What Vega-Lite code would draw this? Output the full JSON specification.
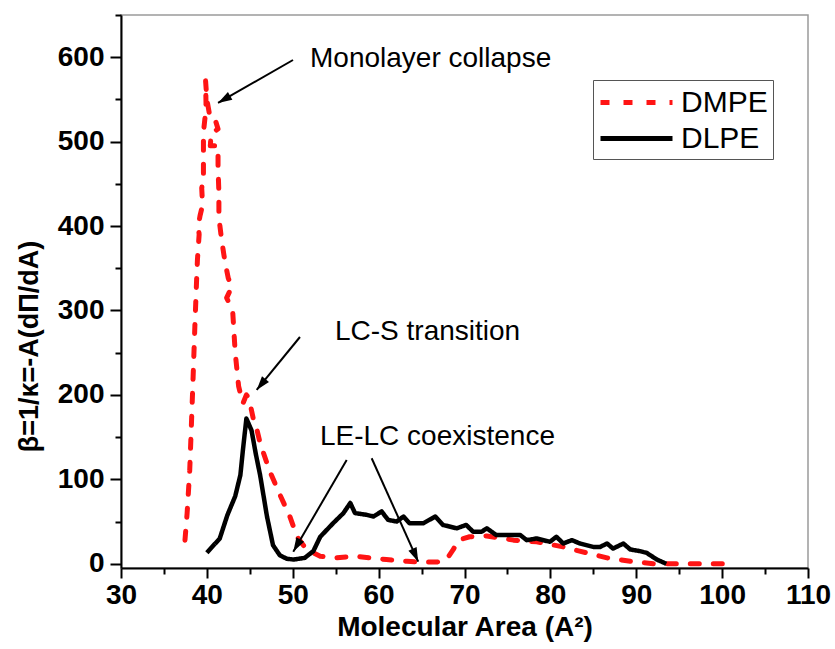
{
  "$schema": "https://vega.github.io/schema/vega-lite/v6.json",
  "width": 687,
  "height": 553,
  "autosize": {"type": "none"},
  "padding": {"left": 121, "top": 15, "right": 27, "bottom": 81},
  "background": "white",
  "config": {"view": {"stroke": "#9a9a9a", "strokeWidth": 1.5}, "font": "Liberation Sans"},
  "datasets": {
    "curves": [
      {"series": "DMPE", "i": 1, "area": 37.45, "beta": 28},
      {"series": "DMPE", "i": 2, "area": 37.7, "beta": 60},
      {"series": "DMPE", "i": 3, "area": 38.0, "beta": 110},
      {"series": "DMPE", "i": 4, "area": 38.2, "beta": 165},
      {"series": "DMPE", "i": 5, "area": 38.4, "beta": 222},
      {"series": "DMPE", "i": 6, "area": 38.6, "beta": 281},
      {"series": "DMPE", "i": 7, "area": 38.8, "beta": 335},
      {"series": "DMPE", "i": 8, "area": 38.9, "beta": 360},
      {"series": "DMPE", "i": 9, "area": 39.1, "beta": 390},
      {"series": "DMPE", "i": 10, "area": 39.0, "beta": 400},
      {"series": "DMPE", "i": 11, "area": 39.2, "beta": 412},
      {"series": "DMPE", "i": 12, "area": 39.5, "beta": 425},
      {"series": "DMPE", "i": 13, "area": 39.4, "beta": 445},
      {"series": "DMPE", "i": 14, "area": 39.6, "beta": 458},
      {"series": "DMPE", "i": 15, "area": 39.6, "beta": 485},
      {"series": "DMPE", "i": 16, "area": 39.6, "beta": 511},
      {"series": "DMPE", "i": 17, "area": 39.8, "beta": 530},
      {"series": "DMPE", "i": 18, "area": 39.9, "beta": 545},
      {"series": "DMPE", "i": 19, "area": 39.85, "beta": 572},
      {"series": "DMPE", "i": 20, "area": 40.0, "beta": 550},
      {"series": "DMPE", "i": 21, "area": 40.4, "beta": 527},
      {"series": "DMPE", "i": 22, "area": 41.0, "beta": 525},
      {"series": "DMPE", "i": 23, "area": 41.3, "beta": 515},
      {"series": "DMPE", "i": 24, "area": 40.5, "beta": 510},
      {"series": "DMPE", "i": 25, "area": 40.4, "beta": 495},
      {"series": "DMPE", "i": 26, "area": 41.3, "beta": 495},
      {"series": "DMPE", "i": 27, "area": 41.3, "beta": 468},
      {"series": "DMPE", "i": 28, "area": 41.4, "beta": 440},
      {"series": "DMPE", "i": 29, "area": 41.4, "beta": 410},
      {"series": "DMPE", "i": 30, "area": 41.7, "beta": 385},
      {"series": "DMPE", "i": 31, "area": 42.1, "beta": 358},
      {"series": "DMPE", "i": 32, "area": 42.5, "beta": 338},
      {"series": "DMPE", "i": 33, "area": 42.9, "beta": 328},
      {"series": "DMPE", "i": 34, "area": 42.3, "beta": 315},
      {"series": "DMPE", "i": 35, "area": 43.0, "beta": 300},
      {"series": "DMPE", "i": 36, "area": 43.3, "beta": 250},
      {"series": "DMPE", "i": 37, "area": 43.7, "beta": 210},
      {"series": "DMPE", "i": 38, "area": 44.2, "beta": 190},
      {"series": "DMPE", "i": 39, "area": 44.6, "beta": 200},
      {"series": "DMPE", "i": 40, "area": 44.9, "beta": 196},
      {"series": "DMPE", "i": 41, "area": 45.4, "beta": 172},
      {"series": "DMPE", "i": 42, "area": 45.8, "beta": 160},
      {"series": "DMPE", "i": 43, "area": 46.2, "beta": 143},
      {"series": "DMPE", "i": 44, "area": 47.3, "beta": 110},
      {"series": "DMPE", "i": 45, "area": 48.5, "beta": 82},
      {"series": "DMPE", "i": 46, "area": 49.7, "beta": 55},
      {"series": "DMPE", "i": 47, "area": 50.5, "beta": 32},
      {"series": "DMPE", "i": 48, "area": 51.6, "beta": 17},
      {"series": "DMPE", "i": 49, "area": 53.2, "beta": 9},
      {"series": "DMPE", "i": 50, "area": 55.1, "beta": 7},
      {"series": "DMPE", "i": 51, "area": 57.1, "beta": 9},
      {"series": "DMPE", "i": 52, "area": 59.0, "beta": 7},
      {"series": "DMPE", "i": 53, "area": 60.9, "beta": 5},
      {"series": "DMPE", "i": 54, "area": 63.3, "beta": 3},
      {"series": "DMPE", "i": 55, "area": 64.8, "beta": 2},
      {"series": "DMPE", "i": 56, "area": 66.8, "beta": 2},
      {"series": "DMPE", "i": 57, "area": 67.9, "beta": 5},
      {"series": "DMPE", "i": 58, "area": 68.7, "beta": 17},
      {"series": "DMPE", "i": 59, "area": 69.3, "beta": 28},
      {"series": "DMPE", "i": 60, "area": 70.6, "beta": 32},
      {"series": "DMPE", "i": 61, "area": 72.6, "beta": 33},
      {"series": "DMPE", "i": 62, "area": 75.7, "beta": 28},
      {"series": "DMPE", "i": 63, "area": 78.4, "beta": 26},
      {"series": "DMPE", "i": 64, "area": 81.5, "beta": 20},
      {"series": "DMPE", "i": 65, "area": 83.4, "beta": 15},
      {"series": "DMPE", "i": 66, "area": 86.6, "beta": 7},
      {"series": "DMPE", "i": 67, "area": 89.3, "beta": 3},
      {"series": "DMPE", "i": 68, "area": 92.0, "beta": 0},
      {"series": "DMPE", "i": 69, "area": 95.1, "beta": 0},
      {"series": "DMPE", "i": 70, "area": 100.5, "beta": 0},
      {"series": "DLPE", "i": 1, "area": 40.0, "beta": 13},
      {"series": "DLPE", "i": 2, "area": 41.5, "beta": 30},
      {"series": "DLPE", "i": 3, "area": 42.4, "beta": 58},
      {"series": "DLPE", "i": 4, "area": 43.3, "beta": 80},
      {"series": "DLPE", "i": 5, "area": 43.9, "beta": 105},
      {"series": "DLPE", "i": 6, "area": 44.2, "beta": 135},
      {"series": "DLPE", "i": 7, "area": 44.6, "beta": 172},
      {"series": "DLPE", "i": 8, "area": 45.2, "beta": 158},
      {"series": "DLPE", "i": 9, "area": 45.7, "beta": 130},
      {"series": "DLPE", "i": 10, "area": 46.2, "beta": 105},
      {"series": "DLPE", "i": 11, "area": 47.0, "beta": 56},
      {"series": "DLPE", "i": 12, "area": 47.7, "beta": 22},
      {"series": "DLPE", "i": 13, "area": 48.5, "beta": 10},
      {"series": "DLPE", "i": 14, "area": 49.3, "beta": 6},
      {"series": "DLPE", "i": 15, "area": 50.1, "beta": 5},
      {"series": "DLPE", "i": 16, "area": 51.4, "beta": 7},
      {"series": "DLPE", "i": 17, "area": 52.4, "beta": 15},
      {"series": "DLPE", "i": 18, "area": 53.2, "beta": 32},
      {"series": "DLPE", "i": 19, "area": 54.7, "beta": 48},
      {"series": "DLPE", "i": 20, "area": 55.9, "beta": 60},
      {"series": "DLPE", "i": 21, "area": 56.7, "beta": 72},
      {"series": "DLPE", "i": 22, "area": 57.25, "beta": 60},
      {"series": "DLPE", "i": 23, "area": 58.6, "beta": 58},
      {"series": "DLPE", "i": 24, "area": 59.4, "beta": 56},
      {"series": "DLPE", "i": 25, "area": 60.35, "beta": 62},
      {"series": "DLPE", "i": 26, "area": 61.1, "beta": 52},
      {"series": "DLPE", "i": 27, "area": 62.1, "beta": 50},
      {"series": "DLPE", "i": 28, "area": 62.9, "beta": 56},
      {"series": "DLPE", "i": 29, "area": 63.6, "beta": 48},
      {"series": "DLPE", "i": 30, "area": 65.2, "beta": 48},
      {"series": "DLPE", "i": 31, "area": 66.6, "beta": 56},
      {"series": "DLPE", "i": 32, "area": 67.5, "beta": 46},
      {"series": "DLPE", "i": 33, "area": 69.1, "beta": 42},
      {"series": "DLPE", "i": 34, "area": 70.2, "beta": 46},
      {"series": "DLPE", "i": 35, "area": 71.0, "beta": 38},
      {"series": "DLPE", "i": 36, "area": 72.0, "beta": 38},
      {"series": "DLPE", "i": 37, "area": 72.6, "beta": 42},
      {"series": "DLPE", "i": 38, "area": 73.7, "beta": 34},
      {"series": "DLPE", "i": 39, "area": 75.0, "beta": 34},
      {"series": "DLPE", "i": 40, "area": 76.5, "beta": 34},
      {"series": "DLPE", "i": 41, "area": 77.25, "beta": 28},
      {"series": "DLPE", "i": 42, "area": 78.4, "beta": 30},
      {"series": "DLPE", "i": 43, "area": 79.95, "beta": 26},
      {"series": "DLPE", "i": 44, "area": 80.7, "beta": 32},
      {"series": "DLPE", "i": 45, "area": 81.5, "beta": 24},
      {"series": "DLPE", "i": 46, "area": 82.5, "beta": 28},
      {"series": "DLPE", "i": 47, "area": 83.45, "beta": 24},
      {"series": "DLPE", "i": 48, "area": 85.0, "beta": 20},
      {"series": "DLPE", "i": 49, "area": 85.8, "beta": 20},
      {"series": "DLPE", "i": 50, "area": 86.6, "beta": 24},
      {"series": "DLPE", "i": 51, "area": 87.3, "beta": 18},
      {"series": "DLPE", "i": 52, "area": 88.5, "beta": 24},
      {"series": "DLPE", "i": 53, "area": 89.3, "beta": 17},
      {"series": "DLPE", "i": 54, "area": 90.4, "beta": 15},
      {"series": "DLPE", "i": 55, "area": 91.2, "beta": 13},
      {"series": "DLPE", "i": 56, "area": 92.4, "beta": 5},
      {"series": "DLPE", "i": 57, "area": 93.5, "beta": 0}
    ],
    "labels": [
      {"label": "Monolayer collapse", "area": 52.01, "beta": 588.8},
      {"label": "LC-S transition", "area": 54.92, "beta": 265.1},
      {"label": "LE-LC coexistence", "area": 53.17, "beta": 140.7}
    ],
    "arrows": [
      {"id": 1, "area": 50.03, "beta": 596.7, "area2": 41.3, "beta2": 545.8},
      {"id": 2, "area": 50.84, "beta": 268.6, "area2": 45.8, "beta2": 205.9},
      {"id": 3, "area": 56.28, "beta": 122.9, "area2": 50.06, "beta2": 14.3},
      {"id": 4, "area": 59.19, "beta": 125.0, "area2": 64.61, "beta2": 2.5}
    ]
  },
  "layer": [
    {
      "data": {"name": "curves"},
      "transform": [{"filter": "datum.series === 'DMPE'"}],
      "mark": {"type": "line", "strokeWidth": 5, "strokeCap": "round", "strokeJoin": "round"},
      "encoding": {
        "x": {
          "field": "area", "type": "quantitative",
          "scale": {"domain": [30, 110], "nice": false, "zero": false},
          "axis": {
            "title": "Molecular Area (A²)",
            "values": [30, 35, 40, 45, 50, 55, 60, 65, 70, 75, 80, 85, 90, 95, 100, 105, 110],
            "labelExpr": "datum.value % 10 === 0 ? datum.label : ''",
            "tickSize": {"condition": {"test": "datum.value % 10 === 0", "value": 10}, "value": 6},
            "grid": false, "domainColor": "black", "domainWidth": 2, "tickColor": "black", "tickWidth": 2,
            "labelFont": "Liberation Sans", "labelFontWeight": "bold", "labelFontSize": 28, "labelColor": "black",
            "labelPadding": 3, "labelOverlap": false, "labelFlush": false,
            "titleFont": "Liberation Sans", "titleFontSize": 28, "titleFontWeight": "bold", "titleColor": "black", "titlePadding": 4
          }
        },
        "y": {
          "field": "beta", "type": "quantitative",
          "scale": {"domain": [-5, 650], "nice": false, "zero": false},
          "axis": {
            "title": "β=1/κ=-A(dΠ/dA)",
            "values": [0, 50, 100, 150, 200, 250, 300, 350, 400, 450, 500, 550, 600, 650],
            "labelExpr": "datum.value % 100 === 0 ? datum.label : ''",
            "tickSize": {"condition": {"test": "datum.value % 100 === 0", "value": 11}, "value": 6},
            "grid": false, "domainColor": "black", "domainWidth": 2, "tickColor": "black", "tickWidth": 2,
            "labelFont": "Liberation Sans", "labelFontWeight": "bold", "labelFontSize": 28, "labelColor": "black",
            "labelPadding": 6, "labelOverlap": false, "labelFlush": false,
            "titleFont": "Liberation Sans", "titleFontSize": 27, "titleFontWeight": "bold", "titleColor": "black",
            "titleAngle": 270, "titleAlign": "center", "titleBaseline": "middle", "titleX": -92, "titleY": 331
          }
        },
        "color": {
          "field": "series", "type": "nominal", "title": null,
          "scale": {"domain": ["DMPE", "DLPE"], "range": ["#ff1414", "#000000"]},
          "legend": {"orient": "none", "legendX": 472, "legendY": 65, "title": null, "symbolType": "M-2.4,0H2.4", "symbolSize": 900, "symbolOffset": 21, "symbolStrokeWidth": 5, "labelFont": "Liberation Sans", "labelFontSize": 30, "labelColor": "black", "labelOffset": 27, "rowPadding": 3, "padding": 5, "fillColor": "white", "strokeColor": "#555555", "labelLimit": 300}
        },
        "strokeDash": {
          "field": "series", "type": "nominal", "title": null,
          "scale": {"domain": ["DMPE", "DLPE"], "range": [[9, 14], [1, 0]]},
          "legend": {"orient": "none", "legendX": 472, "legendY": 65, "title": null, "symbolType": "M-2.4,0H2.4", "symbolSize": 900, "symbolOffset": 21, "symbolStrokeWidth": 5, "labelFont": "Liberation Sans", "labelFontSize": 30, "labelColor": "black", "labelOffset": 27, "rowPadding": 3, "padding": 5, "fillColor": "white", "strokeColor": "#555555", "labelLimit": 300}
        },
        "order": {"field": "i", "type": "quantitative"}
      }
    },
    {
      "data": {"name": "curves"},
      "transform": [{"filter": "datum.series === 'DLPE'"}],
      "mark": {"type": "line", "strokeWidth": 4.5, "strokeJoin": "round"},
      "encoding": {
        "x": {"field": "area", "type": "quantitative"},
        "y": {"field": "beta", "type": "quantitative"},
        "color": {"field": "series", "type": "nominal", "title": null},
        "strokeDash": {"field": "series", "type": "nominal", "title": null},
        "order": {"field": "i", "type": "quantitative"}
      }
    },
    {
      "data": {"name": "arrows"},
      "mark": {"type": "rule", "color": "black", "strokeWidth": 2},
      "encoding": {
        "x": {"field": "area", "type": "quantitative"},
        "y": {"field": "beta", "type": "quantitative"},
        "x2": {"field": "area2"},
        "y2": {"field": "beta2"}
      }
    },
    {
      "data": {"name": "arrows"},
      "transform": [{"filter": "datum.id === 1"}],
      "mark": {"type": "point", "shape": "M0,0L-0.32,1L0.32,1Z", "filled": true, "color": "black", "opacity": 1, "size": 784, "angle": 240},
      "encoding": {"x": {"field": "area2", "type": "quantitative"}, "y": {"field": "beta2", "type": "quantitative"}}
    },
    {
      "data": {"name": "arrows"},
      "transform": [{"filter": "datum.id === 2"}],
      "mark": {"type": "point", "shape": "M0,0L-0.32,1L0.32,1Z", "filled": true, "color": "black", "opacity": 1, "size": 784, "angle": 219},
      "encoding": {"x": {"field": "area2", "type": "quantitative"}, "y": {"field": "beta2", "type": "quantitative"}}
    },
    {
      "data": {"name": "arrows"},
      "transform": [{"filter": "datum.id === 3"}],
      "mark": {"type": "point", "shape": "M0,0L-0.32,1L0.32,1Z", "filled": true, "color": "black", "opacity": 1, "size": 784, "angle": 210},
      "encoding": {"x": {"field": "area2", "type": "quantitative"}, "y": {"field": "beta2", "type": "quantitative"}}
    },
    {
      "data": {"name": "arrows"},
      "transform": [{"filter": "datum.id === 4"}],
      "mark": {"type": "point", "shape": "M0,0L-0.32,1L0.32,1Z", "filled": true, "color": "black", "opacity": 1, "size": 784, "angle": 156},
      "encoding": {"x": {"field": "area2", "type": "quantitative"}, "y": {"field": "beta2", "type": "quantitative"}}
    },
    {
      "data": {"name": "labels"},
      "mark": {"type": "text", "align": "left", "baseline": "alphabetic", "font": "Liberation Sans", "fontSize": 28, "color": "black"},
      "encoding": {
        "x": {"field": "area", "type": "quantitative"},
        "y": {"field": "beta", "type": "quantitative"},
        "text": {"field": "label", "type": "nominal"}
      }
    }
  ]
}
